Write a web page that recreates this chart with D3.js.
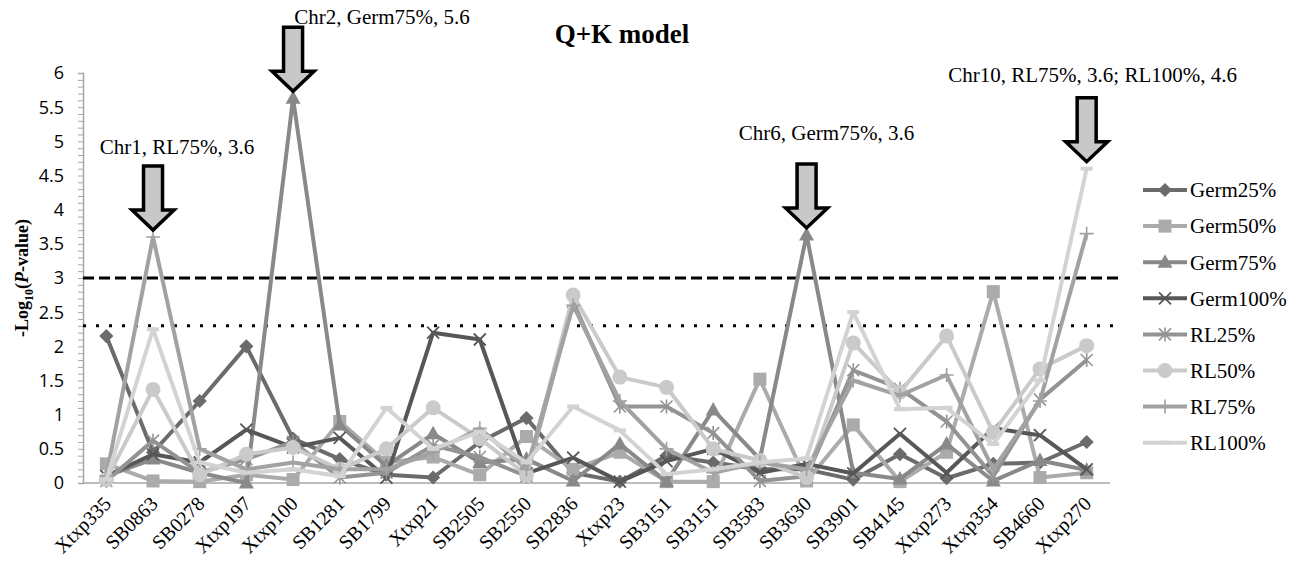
<!DOCTYPE html>
<html>
<head>
<meta charset="utf-8">
<script src="https://cdn.jsdelivr.net/npm/d3@7"></script>
<style>
  body { margin: 0; background: #fff; }
  text { font-family: "Liberation Serif", "Times New Roman", serif; }
</style>
</head>
<body>
<div id="chart"></div>
<script>
// markers along the x axis
const categories = ["Xtxp335", "SB0863", "SB0278", "Xtxp197", "Xtxp100", "SB1281", "SB1799", "Xtxp21",
  "SB2505", "SB2550", "SB2836", "Xtxp23", "SB3151", "SB3151", "SB3583", "SB3630", "SB3901", "SB4145",
  "Xtxp273", "Xtxp354", "SB4660", "Xtxp270"];

// -log10(P) per trait
const germ25 = [2.15, 0.45, 1.2, 2.0, 0.65, 0.35, 0.12, 0.08, 0.6, 0.95, 0.15, 0.02, 0.4, 0.3, 0.2, 0.2, 0.05, 0.42, 0.07, 0.28, 0.3, 0.6];
const germ50 = [0.28, 0.03, 0.02, 0.12, 0.05, 0.9, 0.3, 0.38, 0.12, 0.68, 0.2, 0.45, 0.02, 0.02, 1.52, 0.03, 0.85, 0.02, 0.45, 2.8, 0.08, 0.15];
const germ75 = [0.1, 0.35, 0.15, 0.0, 5.63, 0.85, 0.25, 0.72, 0.3, 0.35, 0.03, 0.57, 0.02, 1.07, 0.35, 3.63, 0.15, 0.06, 0.57, 0.03, 0.33, 0.19];
const germ100 = [0.1, 0.42, 0.3, 0.78, 0.52, 0.66, 0.08, 2.2, 2.1, 0.14, 0.37, 0.02, 0.32, 0.5, 0.15, 0.28, 0.14, 0.72, 0.15, 0.8, 0.7, 0.2];
const rl25 = [0.03, 0.62, 0.15, 0.35, 0.6, 0.08, 0.15, 0.55, 0.38, 0.1, 2.65, 1.12, 1.12, 0.73, 0.03, 0.1, 1.65, 1.38, 0.9, 0.1, 1.22, 1.8];
const rl50 = [0.05, 1.37, 0.12, 0.42, 0.52, 0.2, 0.5, 1.1, 0.65, 0.12, 2.75, 1.55, 1.4, 0.5, 0.33, 0.08, 2.05, 1.33, 2.15, 0.74, 1.67, 2.01];
const rl75 = [0.1, 3.6, 0.5, 0.2, 0.3, 0.2, 0.2, 0.45, 0.8, 0.2, 2.6, 1.2, 0.5, 0.15, 0.3, 0.2, 1.5, 1.28, 1.58, 0.2, 1.2, 3.65];
const rl100 = [0.05, 2.25, 0.3, 0.15, 0.2, 0.1, 1.1, 0.5, 0.75, 0.3, 1.12, 0.77, 0.13, 0.2, 0.3, 0.36, 2.5, 1.08, 1.1, 0.57, 1.5, 4.6];

const seriesNames = ["Germ25%", "Germ50%", "Germ75%", "Germ100%", "RL25%", "RL50%", "RL75%", "RL100%"];
const yTicks = [0, 0.5, 1, 1.5, 2, 2.5, 3, 3.5, 4, 4.5, 5, 5.5, 6];
const thresholds = [3, 2.3];

// highlighted peaks: label, marker index, value the arrow points at
const peakLabels = ["Chr1, RL75%, 3.6", "Chr2, Germ75%, 5.6", "Chr6, Germ75%, 3.6", "Chr10, RL75%, 3.6; RL100%, 4.6"];
const peakIndex = [1, 4, 15, 21];
const peakValue = [3.6, 5.63, 3.63, 4.6];

const width = 1303, height = 563;
const margin = { left: 83, right: 193, top: 73, bottom: 80 };

const svg = d3.select("#chart").append("svg")
  .attr("width", width)
  .attr("height", height);

const x = d3.scaleBand()
  .domain(d3.range(categories.length))
  .range([margin.left, width - margin.right]);

const y = d3.scaleLinear()
  .domain([0, 6])
  .range([height - margin.bottom, margin.top]);

const cx = i => x(i) + x.bandwidth() / 2;

// styles per series
const styles = [
  { color: "#6b6b6b", marker: "diamond" },
  { color: "#ababab", marker: "square" },
  { color: "#898989", marker: "triangle" },
  { color: "#575757", marker: "x" },
  { color: "#939393", marker: "star" },
  { color: "#cacaca", marker: "circle" },
  { color: "#a2a2a2", marker: "plus" },
  { color: "#d3d3d3", marker: "dash" }
];
const allSeries = [germ25, germ50, germ75, germ100, rl25, rl50, rl75, rl100];

function drawMarker(g, type, color) {
  switch (type) {
    case "diamond":
      g.append("rect").attr("x", -5).attr("y", -5).attr("width", 10).attr("height", 10)
        .attr("transform", "rotate(45)").attr("fill", color);
      break;
    case "square":
      g.append("rect").attr("x", -6.5).attr("y", -6.5).attr("width", 13).attr("height", 13).attr("fill", color);
      break;
    case "triangle":
      g.append("path").attr("d", "M0,-8L7.5,5.5L-7.5,5.5Z").attr("fill", color);
      break;
    case "circle":
      g.append("circle").attr("r", 7.5).attr("fill", color);
      break;
    case "x":
      g.append("path").attr("d", "M-6,-6L6,6M-6,6L6,-6").attr("stroke", color).attr("stroke-width", 1.8);
      break;
    case "star":
      g.append("path").attr("d", "M-6,-6L6,6M-6,6L6,-6M0,-7V7").attr("stroke", color).attr("stroke-width", 1.6);
      break;
    case "plus":
      g.append("path").attr("d", "M-7,0H7M0,-7V7").attr("stroke", color).attr("stroke-width", 1.6);
      break;
    case "dash":
      g.append("rect").attr("x", -6).attr("y", -2).attr("width", 12).attr("height", 4).attr("fill", color);
      break;
  }
}

// y axis with minor ticks
const yAxisG = svg.append("g").attr("transform", `translate(${margin.left},0)`);
yAxisG.call(d3.axisLeft(y).tickValues(d3.range(0, 6.01, 0.1)).tickSize(5).tickFormat(""));
yAxisG.selectAll("line").attr("stroke", "#a6a6a6");
yAxisG.select(".domain").attr("stroke", "#a6a6a6").attr("stroke-width", 1.5);

svg.append("g").selectAll("text")
  .data(yTicks)
  .enter()
  .append("text")
  .attr("x", margin.left - 19)
  .attr("y", d => y(d))
  .attr("dy", "0.36em")
  .attr("text-anchor", "end")
  .style("font-family", "'Open Sans', sans-serif")
  .style("font-size", "18px")
  .text(d => d);

// x axis line
svg.append("line")
  .attr("x1", margin.left).attr("x2", width - margin.right)
  .attr("y1", y(0)).attr("y2", y(0))
  .attr("stroke", "#a6a6a6").attr("stroke-width", 1.5);

svg.append("g").selectAll("text")
  .data(categories)
  .enter()
  .append("text")
  .attr("transform", (d, i) => `translate(${cx(i) + 6},${y(0) + 22}) rotate(-45)`)
  .attr("text-anchor", "end")
  .style("font-size", "20px")
  .text(d => d);

// threshold lines
svg.append("line")
  .attr("x1", margin.left).attr("x2", width - margin.right + 12)
  .attr("y1", y(thresholds[0])).attr("y2", y(thresholds[0]))
  .attr("stroke", "#000").attr("stroke-width", 3).attr("stroke-dasharray", "11,5");
svg.append("line")
  .attr("x1", margin.left).attr("x2", width - margin.right + 12)
  .attr("y1", y(thresholds[1])).attr("y2", y(thresholds[1]))
  .attr("stroke", "#000").attr("stroke-width", 3).attr("stroke-dasharray", "3,10");

// series
const line = d3.line().x((d, i) => cx(i)).y(d => y(d));
allSeries.forEach((values, s) => {
  const g = svg.append("g");
  g.append("path")
    .datum(values)
    .attr("d", line)
    .attr("fill", "none")
    .attr("stroke", styles[s].color)
    .attr("stroke-width", 4)
    .attr("stroke-linejoin", "round");
  values.forEach((v, i) => {
    const m = g.append("g").attr("transform", `translate(${cx(i)},${y(v)})`);
    drawMarker(m, styles[s].marker, styles[s].color);
  });
});

// legend
const legend = svg.append("g").attr("transform", "translate(1143,190)");
seriesNames.forEach((name, s) => {
  const row = legend.append("g").attr("transform", `translate(0,${s * 36.1})`);
  row.append("line").attr("x1", 0).attr("x2", 44).attr("stroke", styles[s].color).attr("stroke-width", 4);
  drawMarker(row.append("g").attr("transform", "translate(22,0)"), styles[s].marker, styles[s].color);
  row.append("text").attr("x", 47).attr("dy", "0.35em").style("font-size", "21px").text(name);
});

// title and axis title
svg.append("text")
  .attr("x", 622).attr("y", 43)
  .attr("text-anchor", "middle")
  .style("font-size", "27px").style("font-weight", "bold")
  .text("Q+K model");

const yTitle = svg.append("text")
  .attr("transform", "translate(28,278) rotate(-90)")
  .attr("text-anchor", "middle")
  .style("font-size", "18px").style("font-weight", "bold");
yTitle.append("tspan").text("-Log");
yTitle.append("tspan").attr("dy", 5).style("font-size", "12px").text("10");
yTitle.append("tspan").attr("dy", -5).text("(");
yTitle.append("tspan").style("font-style", "italic").text("P");
yTitle.append("tspan").text("-value)");

// arrows over the peaks
const labelOffset = [[24, -12], [89, -3], [20, -24], [6, -16]];
peakLabels.forEach((label, k) => {
  const ax = cx(peakIndex[k]);
  const tip = y(peakValue[k]) - 7;
  const top = tip - 64;
  const headY = tip - 20;
  svg.append("path")
    .attr("d", `M${ax - 9.5},${top}H${ax + 9.5}V${headY}H${ax + 21}L${ax},${tip}L${ax - 21},${headY}H${ax - 9.5}Z`)
    .attr("fill", "#c8c8c8")
    .attr("stroke", "#000")
    .attr("stroke-width", 3.5)
    .attr("stroke-linejoin", "miter");
  svg.append("text")
    .attr("x", ax + labelOffset[k][0])
    .attr("y", top + labelOffset[k][1])
    .attr("text-anchor", "middle")
    .style("font-size", "21px")
    .text(label);
});
</script>
</body>
</html>
